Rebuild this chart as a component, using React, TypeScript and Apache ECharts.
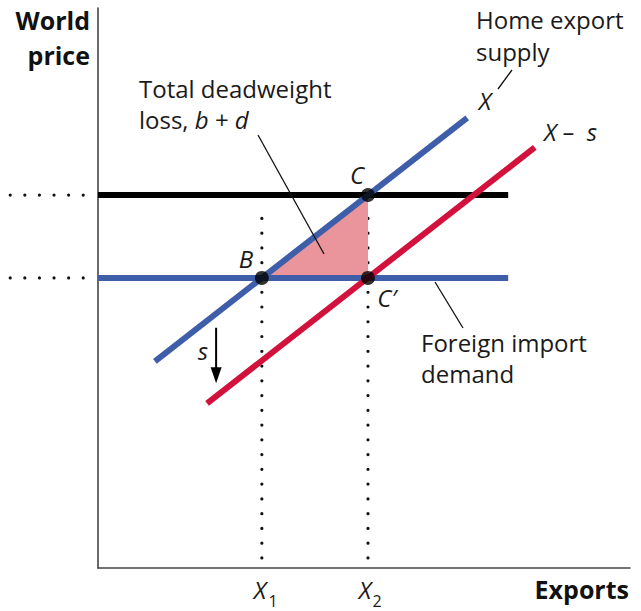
import React, { useEffect, useRef } from "react";
import * as echarts from "echarts";

// Data space: exports 0..100 (x), world price 0..100 (y)
const supplyX: number[][] = [[10.7, 36.9], [69.4, 80.4]];
const supplyXMinusS: number[][] = [[20.5, 29.4], [82.1, 75.1]];
const priceWithSubsidy: number[][] = [[0, 66.6], [77.1, 66.6]];
const importDemand: number[][] = [[0, 51.8], [77.1, 51.8]];
const pointB = [30.8, 51.8];
const pointC = [50.75, 66.6];
const pointCPrime = [50.75, 51.8];
const deadweightTriangle: number[][] = [pointB, pointC, pointCPrime];
const guideX1: number[][] = [[30.8, 1.8], [30.8, 64.8]];
const guideX2: number[][] = [[50.75, 1.8], [50.75, 64.8]];
const guidePriceC: number[][] = [[-16.5, 66.6], [-1.9, 66.6]];
const guidePriceB: number[][] = [[-16.5, 51.8], [-1.9, 51.8]];
const subsidyArrow: number[][] = [[22.2, 42.9], [22.2, 33.0]];

const BLUE = "#3f5ea9";
const RED = "#d2123c";
const PINK = "#e9959b";
const FONT = "Open Sans";

const dotted = (data: number[][]) => ({
  type: "line",
  data,
  symbol: "none",
  silent: true,
  z: 1,
  lineStyle: { color: "#111", width: 3.2, type: [0, 14.76], cap: "round" },
});

export default function App() {
  const ref = useRef<HTMLDivElement>(null);
  useEffect(() => {
    const chart = echarts.init(ref.current!, null, { renderer: "svg" });
    const txt = (text: string, x: number, y: number, opts: any = {}) => ({
      type: "text",
      x,
      y,
      z: 100,
      style: {
        text,
        fontFamily: FONT,
        fontSize: 24,
        fill: "#1a1a1a",
        align: "left",
        verticalAlign: "middle",
        ...opts,
      },
    });
    const ital = { fontStyle: "italic" };
    const baseOption: any = {
      animation: false,
      grid: { left: 98, top: 8, right: 11, bottom: 43 },
      xAxis: {
        type: "value",
        min: 0,
        max: 100,
        axisLine: { show: true, lineStyle: { color: "#444", width: 1.6 } },
        axisTick: { show: false },
        axisLabel: { show: false },
        splitLine: { show: false },
      },
      yAxis: {
        type: "value",
        min: 0,
        max: 100,
        axisLine: { show: true, lineStyle: { color: "#444", width: 1.6 } },
        axisTick: { show: false },
        axisLabel: { show: false },
        splitLine: { show: false },
      },
      series: [
        {
          type: "custom",
          data: [0],
          z: 2,
          silent: true,
          renderItem: (_p: any, api: any) => ({
            type: "polygon",
            shape: { points: deadweightTriangle.map((p) => api.coord(p)) },
            style: { fill: PINK },
          }),
        },
        dotted(guideX1),
        dotted(guideX2),
        {
          type: "line",
          data: importDemand,
          symbol: "none",
          z: 3,
          lineStyle: { color: BLUE, width: 6 },
        },
        {
          type: "line",
          data: priceWithSubsidy,
          symbol: "none",
          z: 3,
          lineStyle: { color: "#000", width: 6 },
        },
        {
          type: "line",
          data: supplyX,
          symbol: "none",
          z: 4,
          lineStyle: { color: BLUE, width: 6 },
        },
        {
          type: "line",
          data: supplyXMinusS,
          symbol: "none",
          z: 4,
          lineStyle: { color: RED, width: 6 },
        },
        {
          type: "scatter",
          data: [pointB, pointC, pointCPrime],
          symbolSize: 14,
          z: 5,
          itemStyle: { color: "#000" },
        },
        {
          type: "custom",
          data: [0],
          z: 5,
          silent: true,
          renderItem: (_p: any, api: any) => {
            const a = api.coord(subsidyArrow[0]);
            const b = api.coord(subsidyArrow[1]);
            return {
              type: "group",
              children: [
                {
                  type: "line",
                  shape: { x1: a[0], y1: a[1], x2: b[0], y2: b[1] - 12 },
                  style: { stroke: "#000", lineWidth: 2 },
                },
                {
                  type: "polygon",
                  shape: {
                    points: [
                      [b[0] - 5.5, b[1] - 16],
                      [b[0] + 5.5, b[1] - 16],
                      [b[0], b[1]],
                    ],
                  },
                  style: { fill: "#000" },
                },
              ],
            };
          },
        },
      ],
    };
    chart.setOption(baseOption);

    // Guides left of the price axis, placed through the chart's own scales
    const guideLines = [guidePriceC, guidePriceB].map((g) => {
      const p1 = chart.convertToPixel({ gridIndex: 0 }, g[0]) as number[];
      const p2 = chart.convertToPixel({ gridIndex: 0 }, g[1]) as number[];
      return {
        type: "line",
        z: 1,
        shape: { x1: p1[0], y1: p1[1], x2: p2[0], y2: p2[1] },
        style: { stroke: "#111", lineWidth: 3.2, lineDash: [0, 14.6], lineCap: "round" },
      };
    });

    chart.setOption({
      graphic: [
        ...guideLines,
        txt("World", 90, 20, { align: "right", fontWeight: "bold", fontSize: 25, fill: "#111" }),
        txt("price", 90, 55, { align: "right", fontWeight: "bold", fontSize: 25, fill: "#111" }),
        txt("Total deadweight", 139, 88),
        txt("loss, {i|b} + {i|d}", 139, 119, { rich: { i: { ...ital, fontFamily: FONT, fontSize: 24 } } }),
        txt("Home export", 476, 19),
        txt("supply", 476, 51),
        txt("Foreign import", 421, 342),
        txt("demand", 421, 373),
        txt("Exports", 629, 589, { align: "right", fontWeight: "bold", fontSize: 25, fill: "#111" }),
        txt("X", 260, 589, { align: "center", ...ital }),
        txt("1", 273, 601, { align: "center", fontSize: 16 }),
        txt("X", 365, 589, { align: "center", ...ital }),
        txt("2", 377, 601, { align: "center", fontSize: 16 }),
        txt("B", 246, 258, { align: "center", ...ital }),
        txt("C", 357, 174, { align: "center", ...ital }),
        txt("C\u2032", 387, 297, { align: "center", ...ital }),
        txt("X", 485, 100, { align: "center", ...ital }),
        txt("X \u2013  s", 544, 131, { ...ital }),
        txt("s", 203, 350, { align: "center", ...ital }),
        {
          type: "line",
          z: 100,
          shape: { x1: 258, y1: 135, x2: 324, y2: 254 },
          style: { stroke: "#111", lineWidth: 1.3 },
        },
        {
          type: "line",
          z: 100,
          shape: { x1: 512, y1: 70, x2: 498, y2: 89 },
          style: { stroke: "#111", lineWidth: 1.3 },
        },
        {
          type: "line",
          z: 100,
          shape: { x1: 435, y1: 282, x2: 463, y2: 328 },
          style: { stroke: "#111", lineWidth: 1.3 },
        },
      ],
    });
    return () => chart.dispose();
  }, []);
  return (
    <div
      ref={ref}
      style={{ position: "fixed", left: 0, top: 0, width: 641, height: 611, background: "#fff" }}
    />
  );
}
